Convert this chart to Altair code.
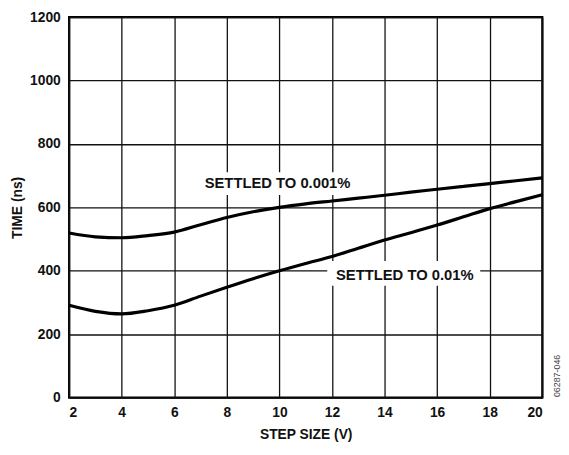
import altair as alt
import pandas as pd

step = [2, 3, 4, 5, 6, 7, 8, 9, 10, 11, 12, 13, 14, 15, 16, 17, 18, 19, 20]
t_0001 = [519, 507, 504, 511, 522, 545, 568, 586, 600, 611, 620, 629, 638, 648, 657, 666, 675, 684, 693]
t_001 = [291, 272, 264, 274, 291, 320, 348, 375, 400, 423, 445, 471, 497, 520, 544, 570, 596, 618, 640]

label_text = ["SETTLED TO 0.001%", "SETTLED TO 0.01%"]
label_x = [9.93, 14.77]
label_y = [675, 385]
box_x1 = [6.8, 11.82]
box_x2 = [13.06, 17.64]
box_y1 = [639, 353]
box_y2 = [711, 431]

x_ticks = list(range(2, 21, 2))
y_ticks = list(range(0, 1201, 200))

curves = pd.DataFrame({
    "step": step * 2,
    "time": t_0001 + t_001,
    "series": ["0.001%"] * len(step) + ["0.01%"] * len(step),
})
labels = pd.DataFrame({"text": label_text, "x": label_x, "y": label_y})
boxes = pd.DataFrame({"x1": box_x1, "x2": box_x2, "y1": box_y1, "y2": box_y2})

FONT = "Liberation Sans"

xs = alt.Scale(domain=[2, 20], nice=False, zero=False)
ys = alt.Scale(domain=[0, 1200], nice=False)

xaxis = alt.Axis(values=x_ticks, format="d", title="STEP SIZE (V)", grid=True, ticks=False, domain=False,
                 labelPadding=8, titlePadding=9, labelFontSize=14, titleFontSize=14,
                 labelFontWeight="bold", titleFontWeight="bold", labelFont=FONT, titleFont=FONT,
                 gridColor="#111111", gridWidth=1.3, gridOpacity=1, labelColor="#111111",
                 titleColor="#111111")
yaxis = alt.Axis(values=y_ticks, format="d", title="TIME (ns)", grid=True, ticks=False, domain=False,
                 labelPadding=9, titlePadding=5, labelFontSize=14, titleFontSize=14,
                 labelFontWeight="bold", titleFontWeight="bold", labelFont=FONT, titleFont=FONT,
                 gridColor="#111111", gridWidth=1.3, gridOpacity=1, labelColor="#111111",
                 titleColor="#111111")

lines = alt.Chart(curves).mark_line(color="black", strokeWidth=3.2, interpolate="monotone").encode(
    x=alt.X("step:Q", scale=xs, axis=xaxis),
    y=alt.Y("time:Q", scale=ys, axis=yaxis),
    detail="series:N",
)

rects = alt.Chart(boxes).mark_rect(color="white").encode(
    x=alt.X("x1:Q", scale=xs), x2="x2:Q",
    y=alt.Y("y1:Q", scale=ys), y2="y2:Q",
)

texts = alt.Chart(labels).mark_text(font=FONT, fontSize=15, fontWeight="bold", color="#111111").encode(
    x=alt.X("x:Q", scale=xs), y=alt.Y("y:Q", scale=ys), text="text:N",
)

mark_id = alt.Chart(pd.DataFrame({"t": ["06287-046"]})).mark_text(
    font=FONT, fontSize=9, angle=270, color="#444444"
).encode(x=alt.value(495), y=alt.value(364), text="t:N")

chart = alt.layer(rects, lines, texts, mark_id).properties(
    width=480, height=386,
    autosize=alt.AutoSizeParams(type="none"),
    padding={"left": 62, "top": 6, "right": 19, "bottom": 55},
).configure_view(stroke="black", strokeWidth=2.2)

chart.save("out.html", embed_options={"renderer": "svg", "actions": False})
